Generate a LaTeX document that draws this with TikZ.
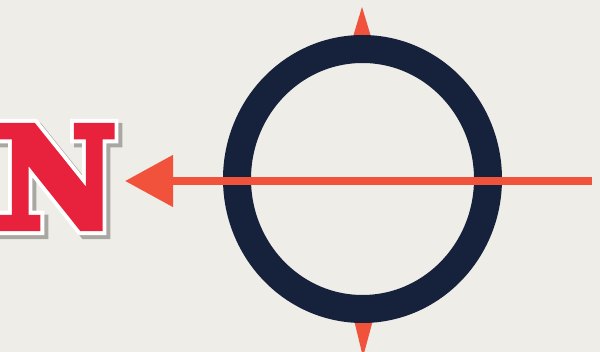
\documentclass[tikz,border=0pt]{standalone}
\usepackage{fontspec}
\newfontfamily\nredfont[FakeBold=6]{DejaVu Serif Bold}
\newfontfamily\nwhitefont[FakeBold=12]{DejaVu Serif Bold}
\usetikzlibrary{shapes.geometric,arrows.meta}
\definecolor{bgpaper}{HTML}{EEEDE8}
\definecolor{ringnavy}{HTML}{16213B}
\definecolor{arrowred}{HTML}{F0523C}
\definecolor{letterred}{HTML}{E8223C}
\definecolor{shadowgray}{HTML}{A9A7A2}
\tikzset{
  letterstyle/.style={inner sep=0pt, anchor=base east, xscale=0.94, transform shape},
  spike/.style={fill=arrowred, draw=none},
}
\begin{document}
\begin{tikzpicture}[x=1pt,y=-1pt]
\fill[bgpaper] (0,0) rectangle (600,352);
\useasboundingbox (0,0) rectangle (600,352);
\clip (0,0) rectangle (600,352);
% spikes
\fill[spike] (352,40) -- (372,40) -- (362,7) -- cycle;
\fill[spike] (354,320) -- (373,320) -- (363,357) -- cycle;
% ring
\node[draw=ringnavy, line width=28pt, ellipse, minimum width=251pt, minimum height=260pt, inner sep=0pt] (ring) at (362.5,179) {};
% arrow
\coordinate (tail) at (592,181);
\coordinate (tip) at (125,181);
\draw[arrowred, line width=8pt, -{Triangle[length=48pt,width=50pt]}] (tail) -- (tip);
% letter N: shadow, white outline, red body
\node[letterstyle, text=shadowgray, font=\nwhitefont\fontsize{137}{137}\selectfont] (shadowN) at (120,231) {N};
\node[letterstyle, text=white, font=\nwhitefont\fontsize{137}{137}\selectfont] (outlineN) at (116,227) {N};
\node[letterstyle, text=letterred, font=\nredfont\fontsize{137}{137}\selectfont] (letterN) at (116,227) {N};
\end{tikzpicture}
\end{document}
